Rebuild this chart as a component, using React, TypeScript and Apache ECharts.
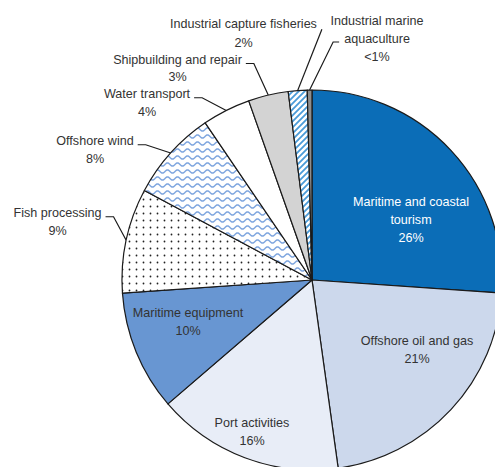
import React, { useEffect, useRef } from 'react';
import * as echarts from 'echarts';

// ---- data ----
const categories = [
  'Maritime and coastal tourism',
  'Offshore oil and gas',
  'Port activities',
  'Maritime equipment',
  'Fish processing',
  'Offshore wind',
  'Water transport',
  'Shipbuilding and repair',
  'Industrial capture fisheries',
  'Industrial marine aquaculture',
];
const labelNames = [
  'Maritime and coastal\ntourism',
  'Offshore oil and gas',
  'Port activities',
  'Maritime equipment',
  'Fish processing',
  'Offshore wind',
  'Water transport',
  'Shipbuilding and repair',
  'Industrial capture fisheries',
  'Industrial marine\naquaculture',
];
const shares = [26.1, 21.7, 15.9, 10.2, 8.9, 7.7, 4.1, 3.4, 1.6, 0.4];
const shareLabels = ['26%', '21%', '16%', '10%', '9%', '8%', '4%', '3%', '2%', '<1%'];

// ---- layout / style ----
const NARROW = '"Liberation Sans Narrow"';
const REGULAR = '"Liberation Sans", Arial, sans-serif';
const REF_TEXT = 'Industrial capture fisheries';
const REF_WIDTH = 147;
const CX = 312;
const CY = 280;
const R = 190;

type Lay = { inside?: boolean; x: number; y?: number; top?: number; lh?: number; side?: string; color?: string };
const layouts: Lay[] = [
  { inside: true, x: 411, y: 220, color: '#ffffff' },
  { inside: true, x: 417, y: 350 },
  { inside: true, x: 252, y: 432 },
  { inside: true, x: 188, y: 322 },
  { x: 57.5, top: 204.5, lh: 17.5, side: 'right' },
  { x: 95, top: 132.5, lh: 17.5, side: 'right' },
  { x: 147, top: 85.5, lh: 17.5, side: 'right' },
  { x: 177.5, top: 51.5, lh: 17, side: 'right' },
  { x: 243.5, top: 15, lh: 18.5, side: 'direct' },
  { x: 377, top: 11.5, lh: 18, side: 'left2' },
];

function makeCanvas(w: number, h: number, draw: (c: CanvasRenderingContext2D) => void) {
  const c = document.createElement('canvas');
  c.width = w;
  c.height = h;
  const ctx = c.getContext('2d')!;
  draw(ctx);
  return c;
}

const measureCtx = document.createElement('canvas').getContext('2d')!;
function measure(text: string, size: number, family: string) {
  measureCtx.font = `${size}px ${family}`;
  return measureCtx.measureText(text).width;
}

function pickFont() {
  const a = measure(REF_TEXT, 20, `${NARROW}, monospace`);
  const b = measure(REF_TEXT, 20, 'monospace');
  const family = Math.abs(a - b) > 0.5 ? `${NARROW}, ${REGULAR}` : REGULAR;
  const w = measure(REF_TEXT, 20, family);
  const size = Math.min(15.5, (20 * REF_WIDTH) / w);
  return { family, size };
}

function anchorFor(i: number) {
  const total = shares.reduce((a, b) => a + b, 0);
  let start = 0;
  for (let k = 0; k < i; k++) start += shares[k];
  const a = ((start + shares[i] / 2) / total) * Math.PI * 2;
  return [CX + R * Math.sin(a), CY - R * Math.cos(a)];
}

export default function App() {
  const ref = useRef<HTMLDivElement>(null);
  useEffect(() => {
    if (!ref.current) return;
    const chart = echarts.init(ref.current, undefined, { renderer: 'svg' });
    const { family: FONT, size: FONT_SIZE } = pickFont();

    const dots = makeCanvas(7, 7, (ctx) => {
      ctx.fillStyle = '#ffffff';
      ctx.fillRect(0, 0, 7, 7);
      ctx.fillStyle = '#222222';
      ctx.beginPath();
      ctx.arc(3.5, 3.5, 0.9, 0, Math.PI * 2);
      ctx.fill();
    });
    const waves = makeCanvas(10, 7, (ctx) => {
      ctx.fillStyle = '#ffffff';
      ctx.fillRect(0, 0, 10, 7);
      ctx.strokeStyle = '#80A7DF';
      ctx.lineWidth = 1.5;
      ctx.beginPath();
      for (let x = -1; x <= 11; x += 0.5) {
        const y = 3.5 + 1.6 * Math.sin((2 * Math.PI * x) / 10);
        if (x === -1) ctx.moveTo(x, y);
        else ctx.lineTo(x, y);
      }
      ctx.stroke();
    });
    const stripes = makeCanvas(6, 6, (ctx) => {
      ctx.fillStyle = '#ffffff';
      ctx.fillRect(0, 0, 6, 6);
      ctx.strokeStyle = '#4A9BD8';
      ctx.lineWidth = 1.8;
      ctx.beginPath();
      ctx.moveTo(-1, 7);
      ctx.lineTo(7, -1);
      ctx.moveTo(-4, 4);
      ctx.lineTo(4, -4);
      ctx.moveTo(2, 10);
      ctx.lineTo(10, 2);
      ctx.stroke();
    });

    const fills: any[] = [
      '#0B6DB7',
      '#CCD8EC',
      '#E8EDF7',
      '#6896D2',
      { image: dots, repeat: 'repeat' },
      { image: waves, repeat: 'repeat' },
      '#ffffff',
      '#D3D3D3',
      { image: stripes, repeat: 'repeat' },
      '#8E8E8E',
    ];

    const aquaW = measure('aquaculture', FONT_SIZE, FONT);

    chart.setOption({
      animation: false,
      backgroundColor: '#ffffff',
      series: [
        {
          type: 'pie',
          center: [CX, CY],
          radius: R,
          startAngle: 90,
          clockwise: true,
          avoidLabelOverlap: false,
          silent: true,
          itemStyle: { borderColor: '#1a1a1a', borderWidth: 1.2 },
          label: {
            show: true,
            position: 'outside',
            formatter: (p: any) => `${labelNames[p.dataIndex]}\n${shareLabels[p.dataIndex]}`,
            fontFamily: FONT,
            fontSize: FONT_SIZE,
            lineHeight: 18,
            color: '#333333',
            align: 'center',
            overflow: 'none',
          },
          labelLine: {
            show: true,
            length: 10,
            length2: 8,
            lineStyle: { color: '#1a1a1a', width: 1.2 },
          },
          labelLayout: (params: any) => {
            const i = params.dataIndex;
            const L = layouts[i];
            if (L.inside) {
              return { x: L.x, y: L.y, align: 'center', verticalAlign: 'middle' };
            }
            const w = params.labelRect.width;
            const pts = params.labelLinePoints;
            const anchor = pts && pts[0] ? pts[0] : anchorFor(i);
            const top = L.top as number;
            const lh = L.lh as number;
            let end: number[];
            let elbow: number[];
            if (L.side === 'right') {
              const ly = top + lh / 2 + 3.5;
              end = [L.x + w / 2 + 4, ly];
              elbow = [end[0] + 8, ly];
            } else if (L.side === 'direct') {
              end = [L.x + w / 2 + 5, top + lh / 2 + 5];
              elbow = end.slice();
            } else {
              const ly = top + lh * 1.5 + 3.5;
              end = [L.x - aquaW / 2 - 5, ly];
              elbow = [end[0] - 6, ly];
            }
            return {
              x: L.x,
              y: top,
              align: 'center',
              verticalAlign: 'top',
              labelLinePoints: [anchor, elbow, end],
            };
          },
          data: categories.map((name, i) => ({
            name,
            value: shares[i],
            itemStyle: { color: fills[i] },
            label: layouts[i].inside
              ? { position: 'inside', color: layouts[i].color || '#333333' }
              : { lineHeight: layouts[i].lh },
            labelLine: layouts[i].inside ? { show: false } : undefined,
          })),
        },
      ],
    });
    return () => chart.dispose();
  }, []);
  return (
    <div
      ref={ref}
      style={{ position: 'fixed', left: 0, top: 0, width: 495, height: 467 }}
    />
  );
}
